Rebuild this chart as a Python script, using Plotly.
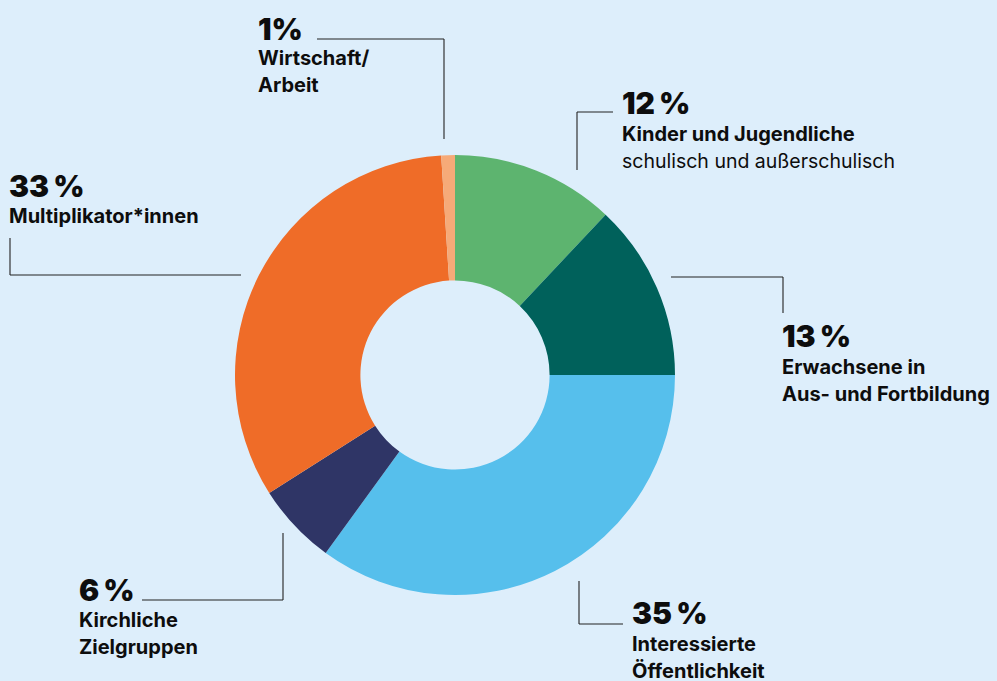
import plotly.graph_objects as go

# ---- data ----
categories = ["Kinder und Jugendliche", "Erwachsene in Aus- und Fortbildung",
              "Interessierte Öffentlichkeit", "Kirchliche Zielgruppen",
              "Multiplikator*innen", "Wirtschaft/Arbeit"]
shares = [12, 13, 35, 6, 33, 1]
colors = ["#5db46f", "#00615b", "#56bfec", "#2f3566", "#ef6c28", "#f6aa78"]

pct_labels = ["12\u2009%", "13\u2009%", "35\u2009%", "6\u2009%", "33\u2009%", "1%"]
label_lines = [
    [("Kinder und Jugendliche", True), ("schulisch und außerschulisch", False)],
    [("Erwachsene in", True), ("Aus- und Fortbildung", True)],
    [("Interessierte", True), ("Öffentlichkeit", True)],
    [("Kirchliche", True), ("Zielgruppen", True)],
    [("Multiplikator*innen", True)],
    [("Wirtschaft/", True), ("Arbeit", True)],
]

W, H = 997, 681
BG = "#ddeefb"
FONT = "Inter"

# layout positions (pixels): text left x, percent centre y, first label line centre y
text_pos = [(620, 103, 134), (780, 336, 367), (630, 613, 644),
            (77, 590, 620), (7, 186, 216), (256, 29, 58)]
line_gap = 27
# leader polylines (pixels)
leaders = [
    [(613, 112), (577, 112), (577, 170)],
    [(671, 277), (783, 277), (783, 313)],
    [(579, 581), (579, 624), (623, 624)],
    [(142, 600), (283, 600), (283, 533)],
    [(10, 238), (10, 275), (241, 275)],
    [(317, 39), (444, 39), (444, 139)],
]

cx, cy, r = 455, 375, 220


def px(x, y):
    return x / W, 1 - y / H


fig = go.Figure(go.Pie(
    labels=categories, values=shares, sort=False, direction="clockwise",
    rotation=0, hole=0.43, textinfo="none", hoverinfo="label+percent",
    marker=dict(colors=colors, line=dict(width=0)),
    domain=dict(x=[(cx - r) / W, (cx + r) / W], y=[1 - (cy + r) / H, 1 - (cy - r) / H]),
    showlegend=False,
))

annotations = []
shapes = []
for (tx, py, ly), pct, lines, pts in zip(text_pos, pct_labels, label_lines, leaders):
    x0, y0 = px(tx, py)
    annotations.append(dict(x=x0, y=y0, xref="paper", yref="paper", text=pct,
                            showarrow=False, xanchor="left", yanchor="middle",
                            font=dict(family=FONT, size=30, color="#0d0d0d", weight=900)))
    for i, (t, bold) in enumerate(lines):
        xx, yy = px(tx, ly + i * line_gap)
        annotations.append(dict(x=xx, y=yy, xref="paper", yref="paper", text=t,
                                showarrow=False, xanchor="left", yanchor="middle",
                                font=dict(family=FONT, size=20 if bold else 19.5,
                                          color="#0d0d0d",
                                          weight=700 if bold else 400)))
    for (a1, b1), (a2, b2) in zip(pts[:-1], pts[1:]):
        X1, Y1 = px(a1, b1)
        X2, Y2 = px(a2, b2)
        shapes.append(dict(type="line", xref="paper", yref="paper", x0=X1, y0=Y1,
                           x1=X2, y1=Y2, line=dict(color="#222222", width=1.1)))

fig.update_layout(width=W, height=H, margin=dict(l=0, r=0, t=0, b=0),
                  paper_bgcolor=BG, plot_bgcolor=BG,
                  annotations=annotations, shapes=shapes)
fig.write_html("out.html")
